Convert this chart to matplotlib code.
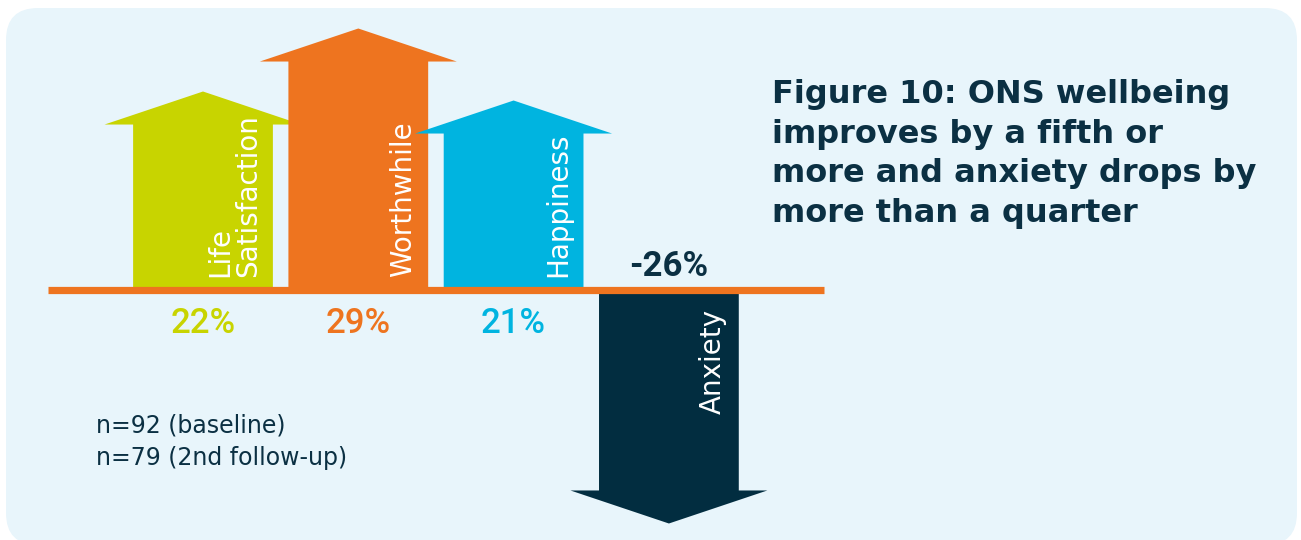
import matplotlib
matplotlib.use("Agg")
import matplotlib.pyplot as plt
from matplotlib.patches import Polygon, FancyBboxPatch

# ONS wellbeing change between baseline and 2nd follow-up (%)
measures = ["Life\nSatisfaction", "Worthwhile", "Happiness", "Anxiety"]
changes = [22, 29, 21, -26]
value_labels = ["22%", "29%", "21%", "-26%"]
colors = ["#c8d400", "#ee741f", "#00b4e0", "#022d40"]

title = ("Figure 10: ONS wellbeing\nimproves by a fifth or\n"
         "more and anxiety drops by\nmore than a quarter")
sample_note = "n=92 (baseline)\nn=79 (2nd follow-up)"

NAVY = "#0b3043"
ORANGE = "#ee741f"
PANEL = "#e8f5fb"

W, H = 1301, 540
fig = plt.figure(figsize=(W / 100, H / 100), dpi=100)
fig.patch.set_facecolor("white")

# rounded background panel
bg = fig.add_axes([0, 0, 1, 1])
bg.set_xlim(0, W)
bg.set_ylim(H, 0)
bg.axis("off")
bg.add_patch(FancyBboxPatch((6, 8), 1291, 537,
                            boxstyle="round,pad=0,rounding_size=32",
                            facecolor=PANEL, edgecolor="none"))

# chart axes: x = measure index, y = percent change
ax = fig.add_axes([0, 0, 1, 1])
ax.patch.set_alpha(0)
ax.axis("off")
x_step = 155.3          # px per category
y_step = 9.0            # px per percentage point
x0_px, y0_px = 203.0, 289.5
ax.set_xlim(-x0_px / x_step, (W - x0_px) / x_step)
ax.set_ylim((y0_px - H) / y_step, y0_px / y_step)

shaft_hw = 0.45
head_hw = 0.634
head_len = 3.67

label_font = dict(family="DejaVu Sans", fontsize=20, fontweight="normal")
value_font = dict(family="Roboto", fontsize=25)

for i, (name, val, col, lab) in enumerate(zip(measures, changes, colors, value_labels)):
    s = 1 if val > 0 else -1
    neck = val - s * head_len
    pts = [(i - shaft_hw, 0), (i - shaft_hw, neck), (i - head_hw, neck),
           (i, val), (i + head_hw, neck), (i + shaft_hw, neck), (i + shaft_hw, 0)]
    ax.add_patch(Polygon(pts, closed=True, facecolor=col, edgecolor="none", zorder=2))

    if val > 0:
        ax.text(i + 0.38, 1.39, name, rotation=90, ha="right", va="bottom",
                multialignment="left", color="white", linespacing=1.0,
                zorder=4, **label_font)
        ax.text(i, -3.8, lab, ha="center", va="center", color=col,
                fontweight="medium", zorder=4, **value_font)
    else:
        ax.text(i + 0.37, -2.17, name, rotation=90, ha="right", va="top",
                color="white", zorder=4, **label_font)
        ax.text(i, 2.6, lab, ha="center", va="center", color=NAVY,
                fontweight="bold", zorder=4, **value_font)

# zero line
ax.plot([-1, 4.0], [0, 0], color=ORANGE, lw=5.2, solid_capstyle="butt", zorder=3)

ax.text(-0.69, -16.9, sample_note, ha="left", va="center", color=NAVY,
        fontsize=17, family="DejaVu Sans", fontweight="normal", linespacing=1.45)

fig.text(772 / W, 1 - 79 / H, title, ha="left", va="top", color=NAVY,
         fontsize=23, family="DejaVu Sans", fontweight="bold", linespacing=1.36)

fig.savefig("out.png", dpi=100, facecolor="white")
